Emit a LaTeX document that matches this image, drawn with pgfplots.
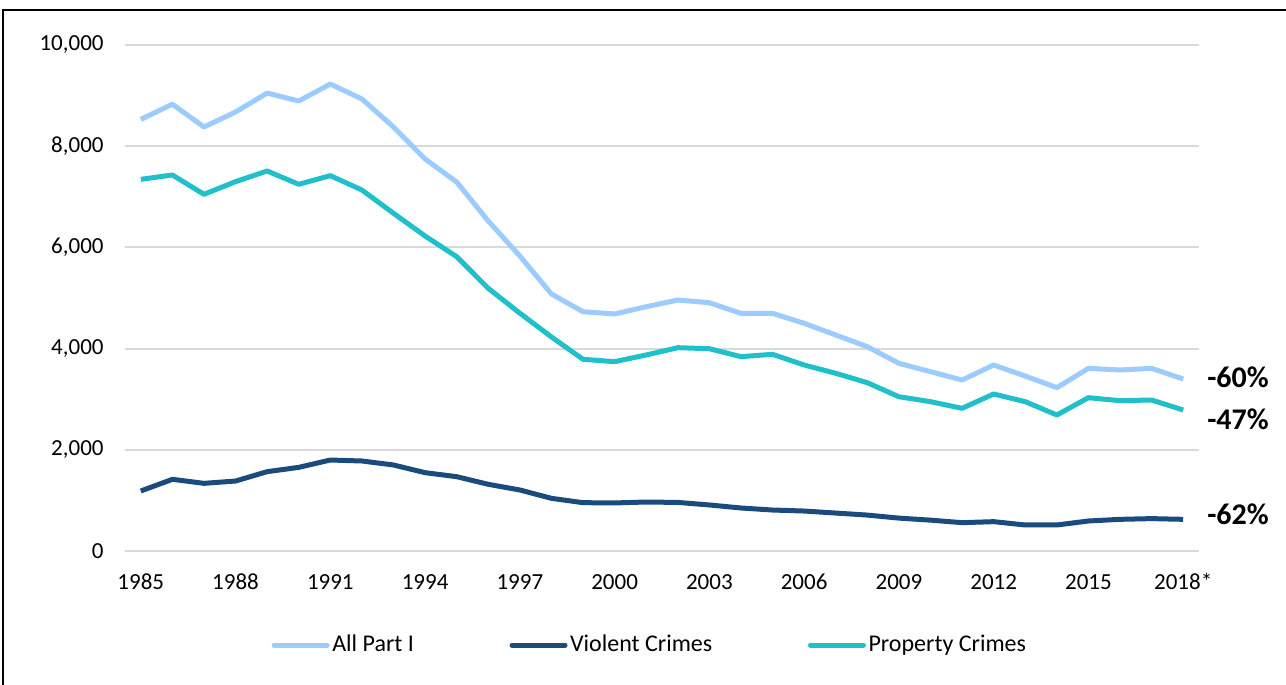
\documentclass[border=0pt]{standalone}
\usepackage{pgfplots}
\pgfplotsset{compat=1.18}
\usepackage{pgfplotstable}
\usepackage{fontspec}
\setmainfont{Carlito}
\definecolor{allc}{RGB}{155,203,255}
\definecolor{violc}{RGB}{26,75,124}
\definecolor{propc}{RGB}{32,191,202}
\definecolor{gridc}{RGB}{217,217,217}
\pgfplotstableread{
year all viol prop
1985 8530 1186 7345
1986 8830 1417 7431
1987 8380 1337 7049
1988 8676 1383 7300
1989 9050 1568 7510
1990 8893 1653 7247
1991 9229 1798 7418
1992 8933 1779 7134
1993 8379 1700 6674
1994 7747 1548 6225
1995 7292 1469 5817
1996 6522 1318 5191
1997 5830 1206 4700
1998 5079 1041 4230
1999 4729 955 3788
2000 4684 950 3742
2001 4828 968 3874
2002 4960 960 4018
2003 4907 910 3998
2004 4697 850 3841
2005 4697 810 3887
2006 4500 790 3676
2007 4269 750 3512
2008 4038 710 3326
2009 3709 650 3049
2010 3544 610 2951
2011 3379 560 2820
2012 3676 580 3103
2013 3458 514 2951
2014 3228 514 2688
2015 3610 593 3030
2016 3577 626 2971
2017 3610 640 2984
2018 3399 626 2787
}\crimedata
\begin{document}
\begin{tikzpicture}
\useasboundingbox (0,0) rectangle (643pt,-342.5pt);
\draw[line width=1pt] (1.5pt,-343pt) -- (1.5pt,-5pt) -- (644pt,-5pt);
\begin{axis}[
  at={(62.5pt,-275.5pt)}, anchor=south west,
  scale only axis, width=537pt, height=253pt,
  xmin=1984.5, xmax=2018.5, ymin=0, ymax=10000,
  axis line style={draw=none},
  tick style={draw=none},
  ymajorgrids, grid style={color=gridc, line width=1pt},
  xtick={1985,1988,...,2018},
  xticklabels={1985,1988,1991,1994,1997,2000,2003,2006,2009,2012,2015,2018*},
  ytick={0,2000,...,10000},
  /pgf/number format/assume math mode=true,
  /pgf/number format/.cd, 1000 sep={,}, /pgfplots/.cd,
  scaled y ticks=false,
  yticklabel style={font=\fontsize{11.5}{13}\selectfont, anchor=east, inner sep=0pt, xshift=-10.5pt},
  xticklabel style={font=\fontsize{11.5}{13}\selectfont, anchor=base, inner sep=0pt, yshift=-19pt},
  clip=false,
  legend columns=3,
  legend style={draw=none, fill=none, at={(0.489,-0.186)}, anchor=center,
    font=\fontsize{12}{14}\selectfont,
    /tikz/every even column/.append style={column sep=46.5pt},
    nodes={inner sep=1.3pt}},
  legend image code/.code={\draw[#1, line cap=round] (0pt,0pt) -- (26.5pt,0pt);},
]
\addplot[color=allc, line width=2.5pt, line join=round] table[x=year, y=all] {\crimedata};
\addlegendentry{All Part I}
\addplot[color=violc, line width=2.5pt, line join=round] table[x=year, y=viol] {\crimedata};
\addlegendentry{Violent Crimes}
\addplot[color=propc, line width=2.5pt, line join=round] table[x=year, y=prop] {\crimedata};
\addlegendentry{Property Crimes}
\node[anchor=west, inner sep=0pt, font=\fontsize{15}{17}\selectfont\bfseries] at (axis cs:2018.75,3439) {-60\%};
\node[anchor=west, inner sep=0pt, font=\fontsize{15}{17}\selectfont\bfseries] at (axis cs:2018.75,2609) {-47\%};
\node[anchor=west, inner sep=0pt, font=\fontsize{15}{17}\selectfont\bfseries] at (axis cs:2018.75,731) {-62\%};
\end{axis}
\end{tikzpicture}
\end{document}
